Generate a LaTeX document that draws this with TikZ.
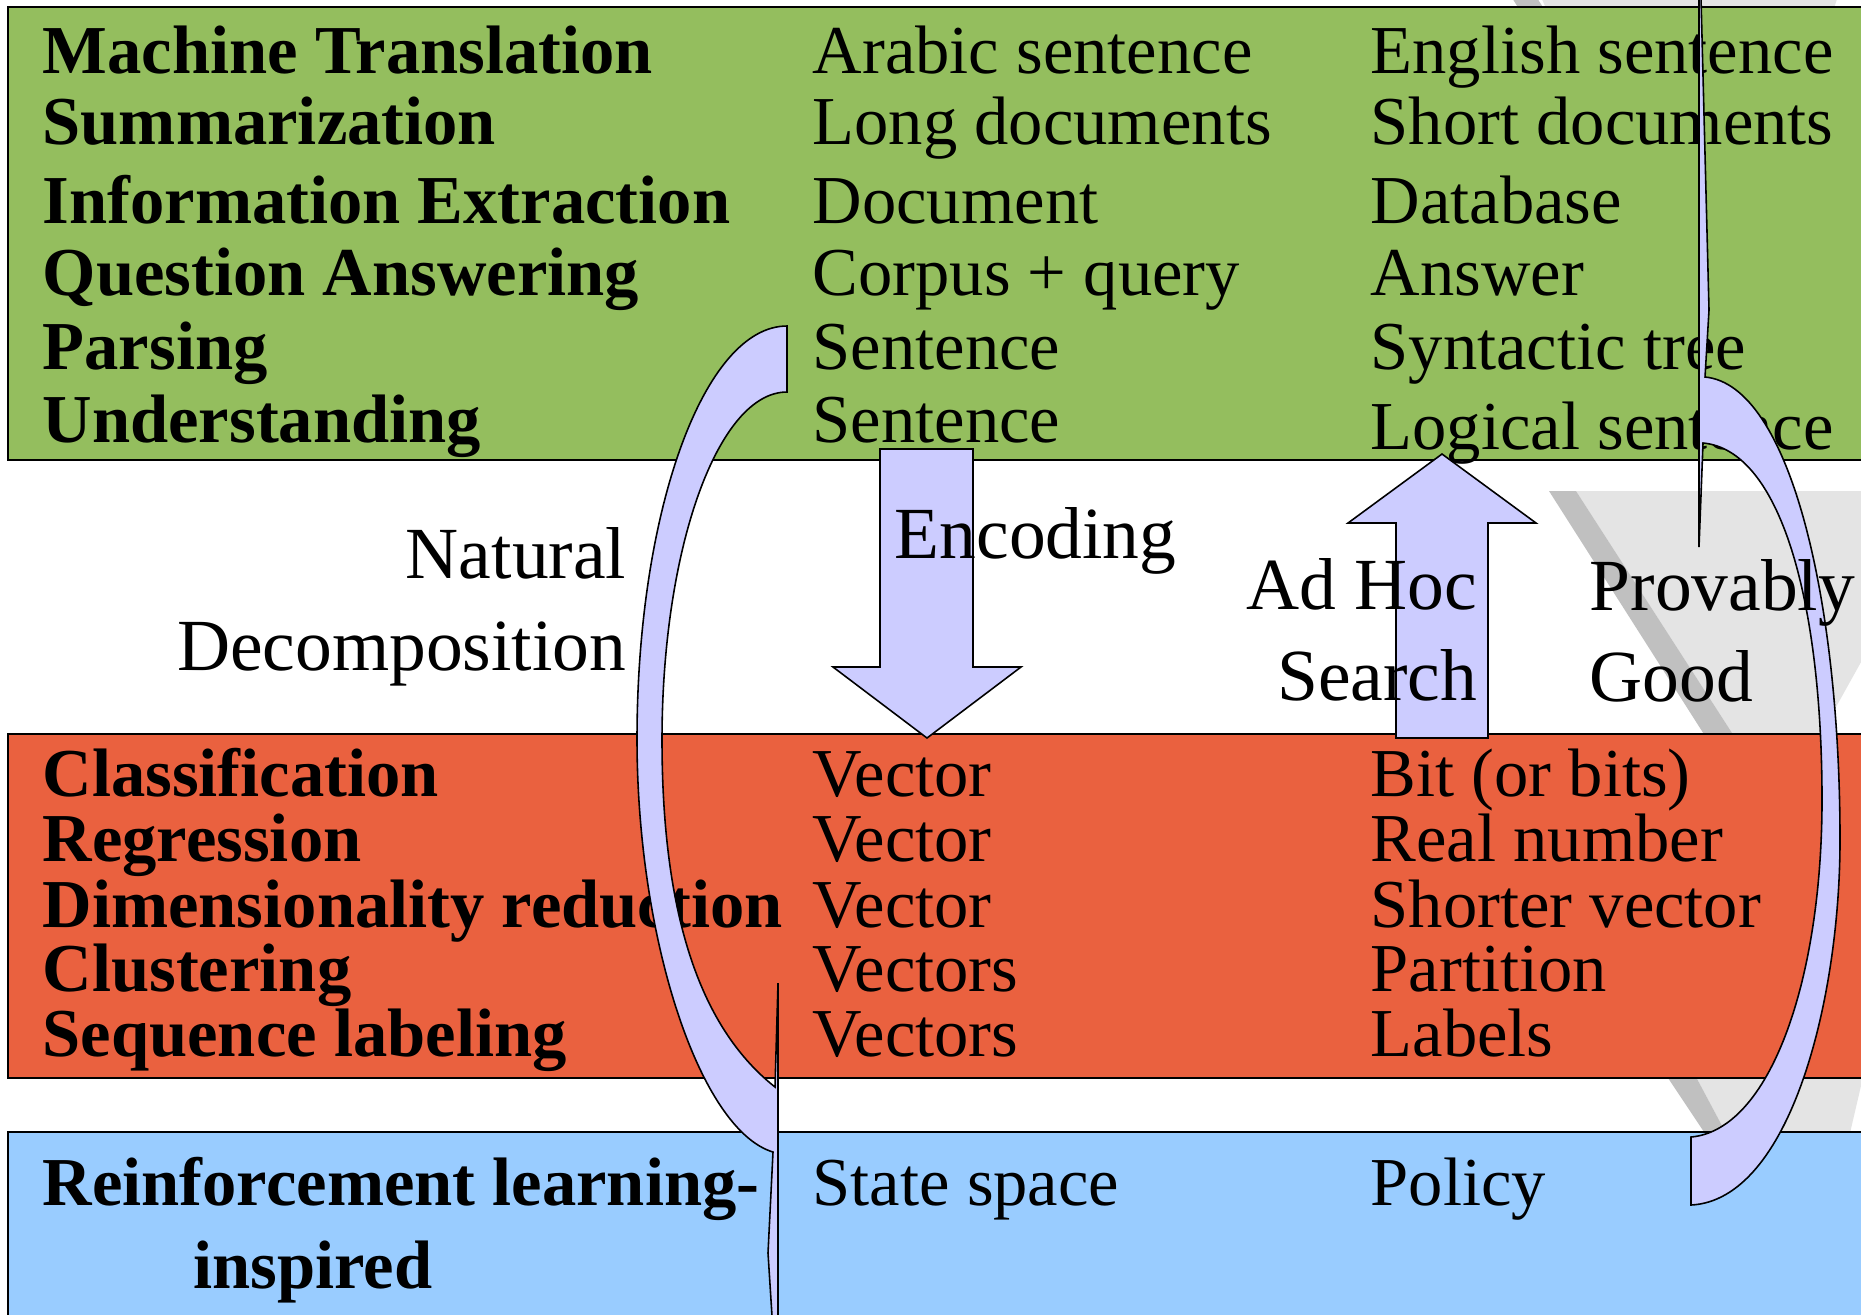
\documentclass[tikz,border=0pt]{standalone}
\usepackage{fontspec}
\setmainfont{Liberation Serif}
\definecolor{greenbox}{RGB}{148,190,94}
\definecolor{redbox}{RGB}{234,97,63}
\definecolor{bluebox}{RGB}{153,204,255}
\definecolor{arrowfill}{RGB}{204,204,255}
\definecolor{funnellight}{RGB}{228,228,228}
\definecolor{funneldark}{RGB}{192,192,192}
\begin{document}
\begin{tikzpicture}[x=0.01cm,y=-0.01cm,
  tbl/.style={anchor=base west, inner sep=0pt, font=\fontsize{19.5pt}{23pt}\selectfont},
  tblb/.style={anchor=base west, inner sep=0pt, font=\fontsize{19.5pt}{23pt}\selectfont\bfseries},
  lbl/.style={inner sep=0pt, font=\fontsize{20.9pt}{25pt}\selectfont},
  box/.style={draw=black, line width=0.6pt},
  bigarrow/.style={fill=arrowfill, draw=black, line width=0.45pt, line join=miter},
]
\clip (0,0) rectangle (1861,1314);
\fill[white] (0,0) rectangle (1861,1314);

% grey funnel pieces seen in the gaps
\fill[funnellight] (1538,-10) -- (1840,-10) -- (1830,20) -- (1551,20) -- cycle;
\fill[funneldark] (1507,-10) -- (1532,-10) -- (1551,20) -- (1526,20) -- cycle;
\fill[funnellight] (1576,491) -- (1900,491) -- (1900,592) -- (1812,750) -- (1743,750) -- cycle;
\fill[funneldark] (1549,491) -- (1576,491) -- (1743,750) -- (1714,750) -- cycle;
\fill[funnellight] (1687,1060) -- (1867,1060) -- (1846,1150) -- (1735,1150) -- cycle;
\fill[funneldark] (1656,1060) -- (1687,1060) -- (1735,1150) -- (1716,1150) -- cycle;

% coloured bands
\path[box, fill=greenbox] (8,7) rectangle (1900,460);
\path[box, fill=redbox] (8,734) rectangle (1900,1078);
\path[box, fill=bluebox] (8,1132) rectangle (1900,1360);

% green band texts
\node[tblb] (t1) at (42,73) {Machine Translation};
\node[tblb] (t2) at (42,144) {Summarization};
\node[tblb] (t3) at (42,223) {Information Extraction};
\node[tblb] (t4) at (42,295) {Question Answering};
\node[tblb] (t5) at (42,369) {Parsing};
\node[tblb] (t6) at (42,442) {Understanding};
\node[tbl] (i1) at (812,73) {Arabic sentence};
\node[tbl] (i2) at (812,144) {Long documents};
\node[tbl] (i3) at (812,223) {Document};
\node[tbl] (i4) at (812,295) {Corpus + query};
\node[tbl] (i5) at (812,369) {Sentence};
\node[tbl] (i6) at (812,442) {Sentence};
\node[tbl] (o1) at (1370,73) {English sentence};
\node[tbl] (o2) at (1370,144) {Short documents};
\node[tbl] (o3) at (1370,223) {Database};
\node[tbl] (o4) at (1370,295) {Answer};
\node[tbl] (o5) at (1370,369) {Syntactic tree};
\node[tbl] (o6) at (1370,449) {Logical sentence};

% red band texts
\node[tblb] (r1) at (42,796) {Classification};
\node[tblb] (r2) at (42,861) {Regression};
\node[tblb] (r3) at (42,927) {Dimensionality reduction};
\node[tblb] (r4) at (42,991) {Clustering};
\node[tblb] (r5) at (42,1056) {Sequence labeling};
\node[tbl] (ri1) at (812,796) {Vector};
\node[tbl] (ri2) at (812,861) {Vector};
\node[tbl] (ri3) at (812,927) {Vector};
\node[tbl] (ri4) at (812,991) {Vectors};
\node[tbl] (ri5) at (812,1056) {Vectors};
\node[tbl] (ro1) at (1370,796) {Bit (or bits)};
\node[tbl] (ro2) at (1370,861) {Real number};
\node[tbl] (ro3) at (1370,927) {Shorter vector};
\node[tbl] (ro4) at (1370,991) {Partition};
\node[tbl] (ro5) at (1370,1056) {Labels};

% blue band texts
\node[tblb] (b1) at (42,1205) {Reinforcement learning-};
\node[tblb] (b2) at (193,1288) {inspired};
\node[tbl] (bi1) at (812,1205) {State space};
\node[tbl] (bo1) at (1370,1205) {Policy};

% left curved arrow (Natural Decomposition)
\path[bigarrow] (787,326) .. controls (704,326) and (637,511) .. (637,739)
  .. controls (637,940) and (700,1130) .. (773,1152)
  -- (768,1253) -- (778,1410) -- (778,983) -- (775,1087)
  .. controls (712,1037) and (662,940) .. (662,740)
  .. controls (662,548) and (718,392) .. (787,392) -- cycle;

% right curved arrow (Provably Good)
\path[bigarrow] (1691,1137) .. controls (1770,1130) and (1822,980) .. (1822,800)
  .. controls (1822,600) and (1780,450) .. (1703,443)
  -- (1699,547) -- (1699,-80) -- (1709,310) -- (1705,377)
  .. controls (1790,385) and (1840,600) .. (1840,840)
  .. controls (1840,1000) and (1790,1200) .. (1691,1205) -- cycle;

% block arrows
\path[bigarrow] (880,449) -- (973,449) -- (973,667) -- (1021,667) -- (927,738) -- (833,667) -- (880,667) -- cycle;
\path[bigarrow] (1396,738) -- (1488,738) -- (1488,523) -- (1536,523) -- (1442,454) -- (1348,523) -- (1396,523) -- cycle;

% labels
\node[lbl, anchor=base east] (nat) at (627,578) {Natural};
\node[lbl, anchor=base east] (dec) at (627,670) {Decomposition};
\node[lbl, anchor=base west] (enc) at (894,558) {Encoding};
\node[lbl, anchor=base east] (adhoc) at (1478,609) {Ad Hoc};
\node[lbl, anchor=base east] (search) at (1478,700) {Search};
\node[lbl, anchor=base west] (prov) at (1589,610) {Provably};
\node[lbl, anchor=base west] (good) at (1589,701) {Good};
\end{tikzpicture}
\end{document}
